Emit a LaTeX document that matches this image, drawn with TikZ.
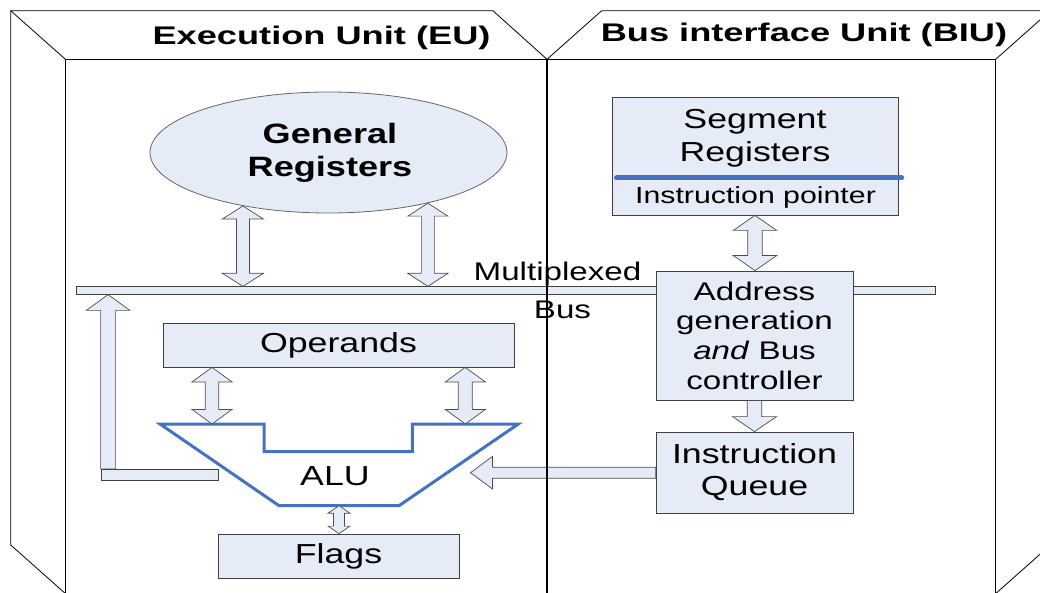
\documentclass[tikz,border=0pt]{standalone}
\usepackage{fontspec}
\setmainfont{Liberation Sans}[FakeStretch=1.3]
\newfontfamily\titlefont{Liberation Sans}[FakeStretch=1.42]
\newfontfamily\regfont{Liberation Sans}[FakeStretch=1.29]
\usetikzlibrary{calc, positioning, shapes.geometric}

\definecolor{boxfill}{RGB}{230,236,247}
\definecolor{alublue}{RGB}{68,114,196}

\newcommand{\blkdbl}[5]{
    \path (#1) coordinate (ha) (#2) coordinate (hz);
    \path ($(ha)!#5!(hz)$) coordinate (hb) ($(hz)!#5!(ha)$) coordinate (hc);
    \draw[blk] (ha) -- ($(hb)!#4!90:(hz)$) -- ($(hb)!#3!90:(hz)$) -- ($(hc)!#3!-90:(ha)$) -- ($(hc)!#4!-90:(ha)$) -- (hz)
        -- ($(hc)!#4!90:(ha)$) -- ($(hc)!#3!90:(ha)$) -- ($(hb)!#3!-90:(hz)$) -- ($(hb)!#4!-90:(hz)$) -- cycle;
}
\newcommand{\blksgl}[5]{
    \path (#1) coordinate (ha) (#2) coordinate (hz);
    \path ($(hz)!#5!(ha)$) coordinate (hc);
    \draw[blk] ($(ha)!#3!90:(hz)$) -- ($(hc)!#3!-90:(ha)$) -- ($(hc)!#4!-90:(ha)$) -- (hz)
        -- ($(hc)!#4!90:(ha)$) -- ($(hc)!#3!90:(ha)$) -- ($(ha)!#3!-90:(hz)$) -- cycle;
}

\begin{document}
\begin{tikzpicture}[x=1pt, y=-1pt,
    box/.style={draw=black!75, fill=boxfill, line width=0.8pt, inner sep=0pt, align=center, font=\fontsize{27.5}{32}\selectfont},
    blk/.style={draw=black!70, fill=boxfill, line width=0.7pt},
    aluline/.style={draw=alublue, line width=3pt},
    lbl/.style={anchor=base, font=\fontsize{25.5}{30}\selectfont},
    title/.style={anchor=base, font=\titlefont\bfseries\fontsize{25.5}{30}\selectfont}]
    \useasboundingbox (0,0) rectangle (1040,593);

    \draw[line width=0.8pt] (10.7,545) -- (10.7,10.7) -- (492.9,10.7) -- (547,59.3) -- (601.7,10.7) -- (1060,10.7);
    \draw[line width=0.8pt] (10.7,10.7) -- (65.4,59.3);
    \draw[line width=0.8pt] (10.7,545) -- (65.4,593.6);
    \draw[line width=0.8pt] (995.7,59.3) -- (1050.4,10.7);
    \draw[line width=0.8pt] (995.7,593.6) -- (1050.4,545);
    \draw[line width=1.2pt] (65.4,600) -- (65.4,59.3) -- (995.7,59.3) -- (995.7,600);

    \node[title] (eu) at (321.5,45) {Execution Unit (EU)};
    \node[title] (biu) at (804,41.7) {Bus interface Unit (BIU)};

    \node[box, minimum width=859pt, minimum height=7.5pt] (bus) at (505.5,290.5) {};
    \node[lbl] (mux) at (557.5,280.7) {Multiplexed};
    \node[lbl] (busl) at (562.5,318.3) {Bus};

    \node[box, ellipse, draw=black!60, minimum width=357pt, minimum height=121pt] (reg) at (328.5,152.5) {};
    \node[align=center, font=\regfont\bfseries\fontsize{28}{33}\selectfont] (regtxt) at (330,153.3) {General\\Registers};

    \node[box, minimum width=286pt, minimum height=118pt] (seg) at (755,156) {};
    \node[align=center, font=\fontsize{27.5}{33.4}\selectfont] (segtxt) at (755,138) {Segment\\Registers};
    \node[anchor=base, font=\fontsize{23.3}{28}\selectfont] (iptxt) at (755.5,203.3) {Instruction pointer};
    \draw[alublue, line width=5pt, line cap=round] (616.5,178) -- (901.7,178);

    \node[box, minimum width=197pt, minimum height=129pt, font=\fontsize{25.5}{29.7}\selectfont] (addr) at (754.5,335.5) {Address\\generation\\\textit{and} Bus\\controller};
    \node[box, minimum width=197pt, minimum height=81pt] (iq) at (754.5,472.5) {Instruction\\Queue};
    \node[box, minimum width=351pt, minimum height=44pt] (ops) at (338.5,345) {Operands};
    \node[box, minimum width=241pt, minimum height=44pt] (flags) at (338.5,556) {Flags};
    \node[box, minimum width=117pt, minimum height=10.7pt] (fb) at (159.5,474.6) {};

    \draw[aluline] (160,424) coordinate (aluA) -- (264,424) coordinate (aluB) -- (264,451.7) -- (412.3,451.7)
        -- (412.3,424) coordinate (aluC) -- (518.3,424) coordinate (aluD) -- (399,505.7) coordinate (aluE)
        -- (279,505.7) coordinate (aluF) -- cycle;
    \node[anchor=base, font=\fontsize{27.5}{32}\selectfont] (alu) at (335,485.7) {ALU};
    \coordinate (aluin) at (470.5,472.7);
    \coordinate (fbup) at ([xshift=7.5pt]fb.north west);
    \path ($(aluA)!.5!(aluB)$) coordinate (opl) ($(aluC)!.5!(aluD)$) coordinate (opr) ($(aluE)!.5!(aluF)$) coordinate (flg);

    \blkdbl{reg.212}{reg.212 |- bus.north}{6.5pt}{20.5pt}{13pt}
    \blkdbl{reg.333}{reg.333 |- bus.north}{6.5pt}{20pt}{13pt}
    \blkdbl{seg.south}{seg.south |- addr.north}{7.3pt}{21.7pt}{15pt}
    \blksgl{addr.south}{iq.north}{7.3pt}{22pt}{15pt}
    \blkdbl{ops.south -| opl}{opl}{6.7pt}{20pt}{14.5pt}
    \blkdbl{ops.south -| opr}{opr}{7pt}{20pt}{14.5pt}
    \blkdbl{flg}{flg |- flags.north}{5.5pt}{11pt}{7.5pt}
    \blksgl{iq.west |- aluin}{aluin}{5.5pt}{16.3pt}{22pt}
    \blksgl{fbup}{fbup |- bus.south}{7.5pt}{21.7pt}{15.7pt}

    \draw[line width=1.8pt] (547,59.3) -- (547,600);
\end{tikzpicture}
\end{document}
